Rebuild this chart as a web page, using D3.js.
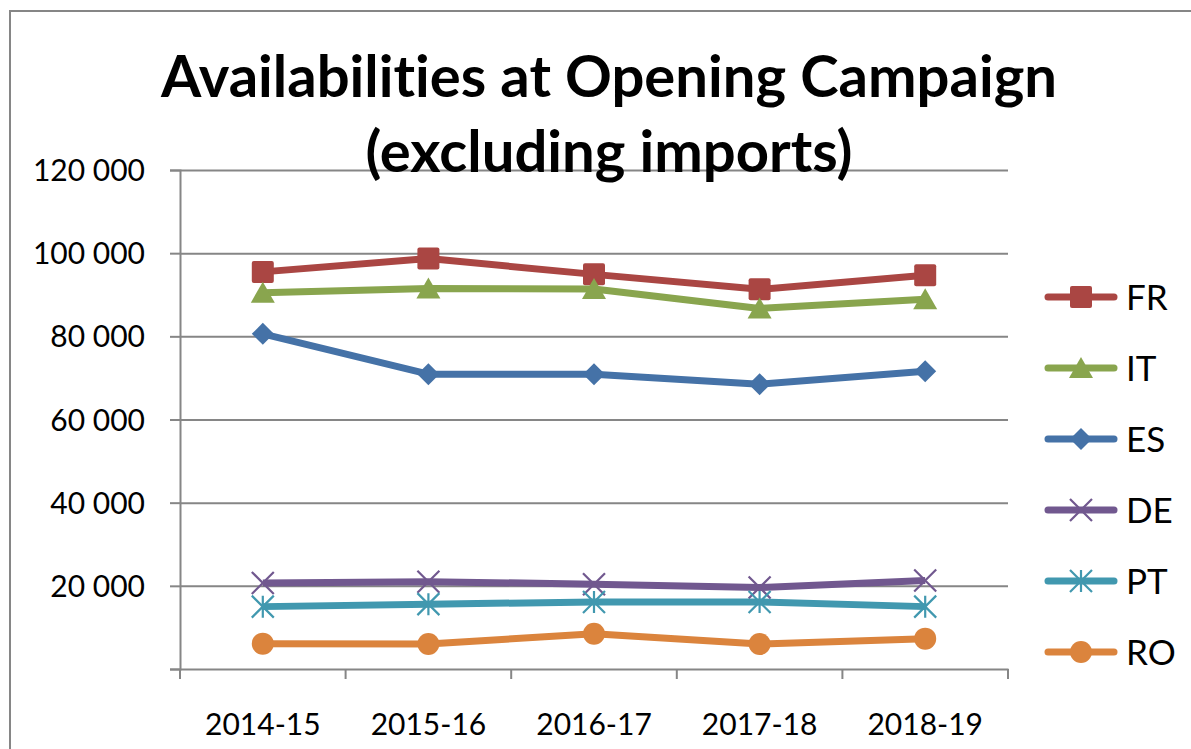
<!DOCTYPE html>
<html>
<head>
<meta charset="utf-8">
<script src="https://cdn.jsdelivr.net/npm/d3@7"></script>
<style>
  body { margin: 0; background: #fff; }
  text { font-family: Lato, "Open Sans", sans-serif; fill: #000; font-variant-ligatures: none; }
</style>
</head>
<body>
<div id="chart"></div>
<script>
// Chart data
const seasons = ["2014-15", "2015-16", "2016-17", "2017-18", "2018-19"];
const seriesNames = ["FR", "IT", "ES", "DE", "PT", "RO"];
const FR = [95500, 98700, 94900, 91300, 94700];
const IT = [90500, 91500, 91400, 86700, 88900];
const ES = [80600, 70900, 70900, 68500, 71600];
const DE = [20700, 21000, 20400, 19600, 21300];
const PT = [15000, 15600, 16100, 16100, 15000];
const RO = [6100, 6000, 8500, 6000, 7300];
const yTicks = [20000, 40000, 60000, 80000, 100000, 120000];
const colors = ["#AA4643", "#89A54E", "#4572A7", "#71588F", "#4198AF", "#DB843D"];
const markers = ["square", "triangle", "diamond", "x", "star", "circle"];
const values = [FR, IT, ES, DE, PT, RO];

const width = 1191, height = 749;
const plotLeft = 180, plotRight = 1008, plotTop = 170, plotBottom = 669;

const svg = d3.select("#chart").append("svg")
    .attr("width", width)
    .attr("height", height);

// outer chart border
svg.append("rect")
    .attr("x", 10).attr("y", 11)
    .attr("width", 1200).attr("height", 760)
    .style("fill", "none")
    .style("stroke", "#868686")
    .style("stroke-width", 2);

const x = d3.scaleBand().domain(seasons).range([plotLeft, plotRight]);
const y = d3.scaleLinear().domain([0, 120000]).range([plotBottom, plotTop]);

// y gridlines + ticks
const fmt = v => d3.format(",")(v).replace(/,/g, " ");
svg.append("g")
    .attr("transform", `translate(${plotLeft},0)`)
    .call(d3.axisLeft(y).tickValues(yTicks).tickSize(-(plotRight - plotLeft)).tickFormat(""))
    .call(g => g.select(".domain").remove())
    .call(g => g.selectAll(".tick line").attr("stroke", "#868686").attr("stroke-width", 2));

svg.append("g")
    .attr("transform", `translate(${plotLeft},0)`)
    .call(d3.axisLeft(y).tickValues([0].concat(yTicks)).tickSize(10).tickFormat(fmt).tickPadding(25))
    .call(g => g.select(".domain").attr("stroke", "#868686").attr("stroke-width", 2))
    .call(g => g.selectAll(".tick line").attr("stroke", "#868686").attr("stroke-width", 2))
    .call(g => g.selectAll(".tick text").style("font-size", "30px").attr("dy", "0.35em")
        .text(d => d === 0 ? "" : fmt(d)));

// x axis
svg.append("g")
    .attr("transform", `translate(0,${plotBottom})`)
    .call(d3.axisBottom(x).tickSize(0).tickPadding(45))
    .call(g => g.select(".domain").attr("stroke", "#868686").attr("stroke-width", 2))
    .call(g => g.selectAll(".tick text").style("font-size", "30px"));

// category boundary ticks
svg.append("g").selectAll("line")
    .data(seasons.map(s => x(s)).concat([plotRight]))
    .enter().append("line")
    .attr("x1", d => d).attr("x2", d => d)
    .attr("y1", plotBottom).attr("y2", plotBottom + 10)
    .attr("stroke", "#868686").attr("stroke-width", 2);

// marker drawing
function drawMarker(g, type, color, cx, cy) {
    const s = 11;
    if (type === "square") {
        g.append("rect").attr("x", cx - s).attr("y", cy - s).attr("width", 2 * s).attr("height", 2 * s)
            .attr("rx", 2).attr("fill", color);
    } else if (type === "triangle") {
        g.append("path").attr("d", `M${cx},${cy - s}L${cx + s + 1},${cy + s - 1}L${cx - s - 1},${cy + s - 1}Z`).attr("fill", color);
    } else if (type === "diamond") {
        g.append("path").attr("d", `M${cx},${cy - s}L${cx + s},${cy}L${cx},${cy + s}L${cx - s},${cy}Z`).attr("fill", color);
    } else if (type === "circle") {
        g.append("circle").attr("cx", cx).attr("cy", cy).attr("r", s).attr("fill", color);
    } else if (type === "x") {
        g.append("path").attr("d", `M${cx - s},${cy - s}L${cx + s},${cy + s}M${cx - s},${cy + s}L${cx + s},${cy - s}`)
            .attr("stroke", color).attr("stroke-width", 2.2).attr("fill", "none");
    } else if (type === "star") {
        g.append("path").attr("d", `M${cx - s},${cy - s}L${cx + s},${cy + s}M${cx - s},${cy + s}L${cx + s},${cy - s}M${cx},${cy - s}L${cx},${cy + s}`)
            .attr("stroke", color).attr("stroke-width", 2.2).attr("fill", "none");
    }
}

const line = d3.line()
    .x((d, i) => x(seasons[i]) + x.bandwidth() / 2)
    .y(d => y(d));

seriesNames.forEach((name, k) => {
    const g = svg.append("g").attr("class", "series");
    g.append("path")
        .datum(values[k])
        .attr("d", line)
        .attr("fill", "none")
        .attr("stroke", colors[k])
        .attr("stroke-width", 7)
        .attr("stroke-linejoin", "round");
    values[k].forEach((v, i) => drawMarker(g, markers[k], colors[k], x(seasons[i]) + x.bandwidth() / 2, y(v)));
});

// legend
const legend = svg.append("g").attr("class", "legend");
seriesNames.forEach((name, k) => {
    const ly = 297 + k * 71;
    legend.append("line")
        .attr("x1", 1048).attr("x2", 1114).attr("y1", ly).attr("y2", ly)
        .attr("stroke", colors[k]).attr("stroke-width", 7).attr("stroke-linecap", "round");
    drawMarker(legend, markers[k], colors[k], 1081, ly);
    legend.append("text")
        .attr("x", 1126).attr("y", ly).attr("dy", "0.36em")
        .style("font-size", "35px")
        .text(name);
});

// title
const title = svg.append("text")
    .attr("x", 609).attr("text-anchor", "middle")
    .style("font-weight", "bold").style("font-size", "58px");
title.append("tspan").attr("x", 609).attr("y", 97).text("Availabilities at Opening Campaign");
title.append("tspan").attr("x", 609).attr("y", 172).text("(excluding imports)");
</script>
</body>
</html>
